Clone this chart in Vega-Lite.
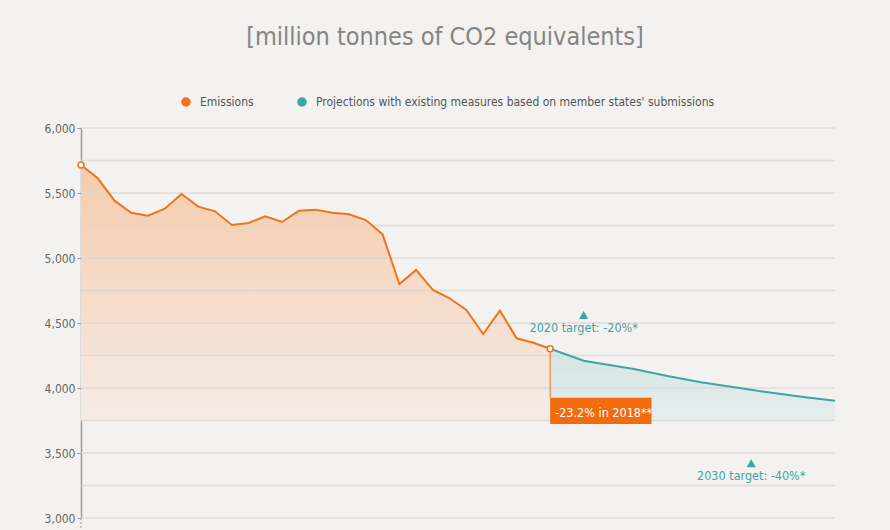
{
  "$schema": "https://vega.github.io/schema/vega-lite/v6.json",
  "width": 754,
  "height": 390,
  "autosize": "none",
  "padding": {"left": 81, "top": 128, "right": 55, "bottom": 12},
  "background": "#f3f2f0",
  "config": {"view": {"stroke": null}, "font": "'DejaVu Sans Condensed', Roboto, sans-serif"},
  "title": {
    "text": "[million tonnes of CO2 equivalents]",
    "font": "'DejaVu Sans Condensed', Roboto, sans-serif",
    "fontSize": 25,
    "fontWeight": "normal",
    "color": "#858585",
    "anchor": "middle",
    "dx": -13,
    "offset": 46
  },
  "datasets": {
    "em": [
      {"year": 1990, "value": 5715, "series": "Emissions"},
      {"year": 1991, "value": 5613, "series": "Emissions"},
      {"year": 1992, "value": 5441, "series": "Emissions"},
      {"year": 1993, "value": 5348, "series": "Emissions"},
      {"year": 1994, "value": 5325, "series": "Emissions"},
      {"year": 1995, "value": 5379, "series": "Emissions"},
      {"year": 1996, "value": 5492, "series": "Emissions"},
      {"year": 1997, "value": 5395, "series": "Emissions"},
      {"year": 1998, "value": 5359, "series": "Emissions"},
      {"year": 1999, "value": 5254, "series": "Emissions"},
      {"year": 2000, "value": 5269, "series": "Emissions"},
      {"year": 2001, "value": 5321, "series": "Emissions"},
      {"year": 2002, "value": 5277, "series": "Emissions"},
      {"year": 2003, "value": 5364, "series": "Emissions"},
      {"year": 2004, "value": 5372, "series": "Emissions"},
      {"year": 2005, "value": 5348, "series": "Emissions"},
      {"year": 2006, "value": 5336, "series": "Emissions"},
      {"year": 2007, "value": 5292, "series": "Emissions"},
      {"year": 2008, "value": 5182, "series": "Emissions"},
      {"year": 2009, "value": 4800, "series": "Emissions"},
      {"year": 2010, "value": 4908, "series": "Emissions"},
      {"year": 2011, "value": 4754, "series": "Emissions"},
      {"year": 2012, "value": 4690, "series": "Emissions"},
      {"year": 2013, "value": 4600, "series": "Emissions"},
      {"year": 2014, "value": 4415, "series": "Emissions"},
      {"year": 2015, "value": 4595, "series": "Emissions"},
      {"year": 2016, "value": 4382, "series": "Emissions"},
      {"year": 2017, "value": 4348, "series": "Emissions"},
      {"year": 2018, "value": 4302, "series": "Emissions"}
    ],
    "proj": [
      {"year": 2018, "value": 4302, "series": "Projections with existing measures based on member states' submissions"},
      {"year": 2020, "value": 4210, "series": "Projections with existing measures based on member states' submissions"},
      {"year": 2023, "value": 4146, "series": "Projections with existing measures based on member states' submissions"},
      {"year": 2025, "value": 4092, "series": "Projections with existing measures based on member states' submissions"},
      {"year": 2027, "value": 4044, "series": "Projections with existing measures based on member states' submissions"},
      {"year": 2029, "value": 4005, "series": "Projections with existing measures based on member states' submissions"},
      {"year": 2031, "value": 3967, "series": "Projections with existing measures based on member states' submissions"},
      {"year": 2033, "value": 3933, "series": "Projections with existing measures based on member states' submissions"},
      {"year": 2035, "value": 3902, "series": "Projections with existing measures based on member states' submissions"}
    ],
    "grid": [
      {"v": 3000}, {"v": 3250}, {"v": 3500}, {"v": 3750}, {"v": 4000}, {"v": 4250}, {"v": 4500},
      {"v": 4750}, {"v": 5000}, {"v": 5250}, {"v": 5500}, {"v": 5750}, {"v": 6000}
    ],
    "ends": [
      {"year": 1990, "value": 5715},
      {"year": 2018, "value": 4302}
    ],
    "box": [
      {"year": 2018, "year2": 2024.05, "top": 3925, "bottom": 3723, "point": 4302, "label": "-23.2% in 2018**"}
    ],
    "targets": [
      {"year": 2020, "value": 4562, "label": "2020 target: -20%*"},
      {"year": 2030, "value": 3421, "label": "2030 target: -40%*"}
    ],
    "ext": [
      {"year": 1990, "from": 3000, "to": 2910}
    ]
  },
  "layer": [
    {
      "data": {"name": "em"},
      "mark": {
        "type": "area",
        "fill": {"gradient": "linear", "x1": 0, "y1": 0, "x2": 0, "y2": 1,
          "stops": [{"offset": 0, "color": "#f4cbad"}, {"offset": 1, "color": "#f5ece6"}]}
      },
      "encoding": {
        "x": {"field": "year", "type": "quantitative", "scale": {"domain": [1990, 2035], "nice": false, "zero": false}, "axis": null},
        "y": {"field": "value", "type": "quantitative", "title": null, "scale": {"domain": [3000, 6000], "nice": false, "zero": false}},
        "y2": {"datum": 3750}
      }
    },
    {
      "data": {"name": "proj"},
      "mark": {
        "type": "area",
        "fill": {"gradient": "linear", "x1": 0, "y1": 0, "x2": 0, "y2": 1,
          "stops": [{"offset": 0, "color": "#d3e5e3"}, {"offset": 1, "color": "#e7eeed"}]}
      },
      "encoding": {
        "x": {"field": "year", "type": "quantitative", "axis": null},
        "y": {"field": "value", "type": "quantitative", "title": null},
        "y2": {"datum": 3750}
      }
    },
    {
      "data": {"name": "grid"},
      "mark": {"type": "rule", "color": "#d9d7d5", "strokeWidth": 1.5, "opacity": 0.8},
      "encoding": {
        "y": {
          "field": "v", "type": "quantitative", "title": null,
          "axis": {
            "values": [3000, 3500, 4000, 4500, 5000, 5500, 6000],
            "format": ",.0f",
            "grid": false,
            "domainColor": "#9a9a9a",
            "domainWidth": 1.5,
            "tickColor": "#9a9a9a",
            "tickSize": 4,
            "tickWidth": 1,
            "labelFont": "'DejaVu Sans Condensed', Roboto, sans-serif",
            "labelFontSize": 12,
            "labelColor": "#666666",
            "labelPadding": 2
          }
        }
      }
    },
    {
      "data": {"name": "ext"},
      "mark": {"type": "rule", "color": "#9a9a9a", "strokeWidth": 1, "strokeDash": [2, 2], "clip": false},
      "encoding": {
        "x": {"field": "year", "type": "quantitative", "axis": null},
        "y": {"field": "from", "type": "quantitative", "title": null},
        "y2": {"field": "to"}
      }
    },
    {
      "data": {"name": "em"},
      "mark": {"type": "line", "strokeWidth": 2},
      "encoding": {
        "x": {"field": "year", "type": "quantitative", "axis": null},
        "y": {"field": "value", "type": "quantitative", "title": null},
        "color": {
          "field": "series", "type": "nominal",
          "scale": {
            "domain": ["Emissions", "Projections with existing measures based on member states' submissions"],
            "range": ["#f07418", "#3ea6a2"]
          },
          "legend": {
            "title": null,
            "orient": "none",
            "direction": "horizontal",
            "legendX": 99,
            "legendY": -32,
            "symbolType": "circle",
            "symbolSize": 90,
            "symbolStrokeWidth": 0,
            "labelFont": "'DejaVu Sans Condensed', Roboto, sans-serif",
            "labelFontSize": 12,
            "labelColor": "#555555",
            "labelOffset": 8,
            "columnPadding": 42,
            "labelLimit": 600,
            "encode": {
              "symbols": {"update": {"fill": {"scale": "color", "field": "value"}, "opacity": {"value": 1}}}
            }
          }
        }
      }
    },
    {
      "data": {"name": "proj"},
      "mark": {"type": "line", "strokeWidth": 2},
      "encoding": {
        "x": {"field": "year", "type": "quantitative", "axis": null},
        "y": {"field": "value", "type": "quantitative", "title": null},
        "color": {"field": "series", "type": "nominal"}
      }
    },
    {
      "data": {"name": "box"},
      "mark": {"type": "rule", "color": "#f07418", "strokeWidth": 1},
      "encoding": {
        "x": {"field": "year", "type": "quantitative", "axis": null},
        "y": {"field": "point", "type": "quantitative", "title": null},
        "y2": {"field": "top"}
      }
    },
    {
      "data": {"name": "box"},
      "mark": {"type": "rect", "color": "#f26c0d"},
      "encoding": {
        "x": {"field": "year", "type": "quantitative", "axis": null},
        "x2": {"field": "year2"},
        "y": {"field": "top", "type": "quantitative", "title": null},
        "y2": {"field": "bottom"}
      }
    },
    {
      "data": {"name": "box"},
      "mark": {"type": "text", "color": "#ffffff", "align": "left", "baseline": "alphabetic", "dx": 5, "dy": -7, "fontSize": 12.5, "font": "'DejaVu Sans Condensed', Roboto, sans-serif"},
      "encoding": {
        "x": {"field": "year", "type": "quantitative", "axis": null},
        "y": {"field": "bottom", "type": "quantitative", "title": null},
        "text": {"field": "label"}
      }
    },
    {
      "data": {"name": "ends"},
      "mark": {"type": "point", "shape": "circle", "filled": true, "fill": "#ffffff", "stroke": "#f07418", "strokeWidth": 1.5, "size": 36, "opacity": 1},
      "encoding": {
        "x": {"field": "year", "type": "quantitative", "axis": null},
        "y": {"field": "value", "type": "quantitative", "title": null}
      }
    },
    {
      "data": {"name": "targets"},
      "mark": {"type": "point", "shape": "triangle-up", "filled": true, "color": "#3ea6a2", "size": 85, "opacity": 1},
      "encoding": {
        "x": {"field": "year", "type": "quantitative", "axis": null},
        "y": {"field": "value", "type": "quantitative", "title": null}
      }
    },
    {
      "data": {"name": "targets"},
      "mark": {"type": "text", "color": "#3ea6a2", "align": "center", "baseline": "alphabetic", "dy": 17, "fontSize": 12.5, "font": "'DejaVu Sans Condensed', Roboto, sans-serif"},
      "encoding": {
        "x": {"field": "year", "type": "quantitative", "axis": null},
        "y": {"field": "value", "type": "quantitative", "title": null},
        "text": {"field": "label"}
      }
    }
  ]
}
